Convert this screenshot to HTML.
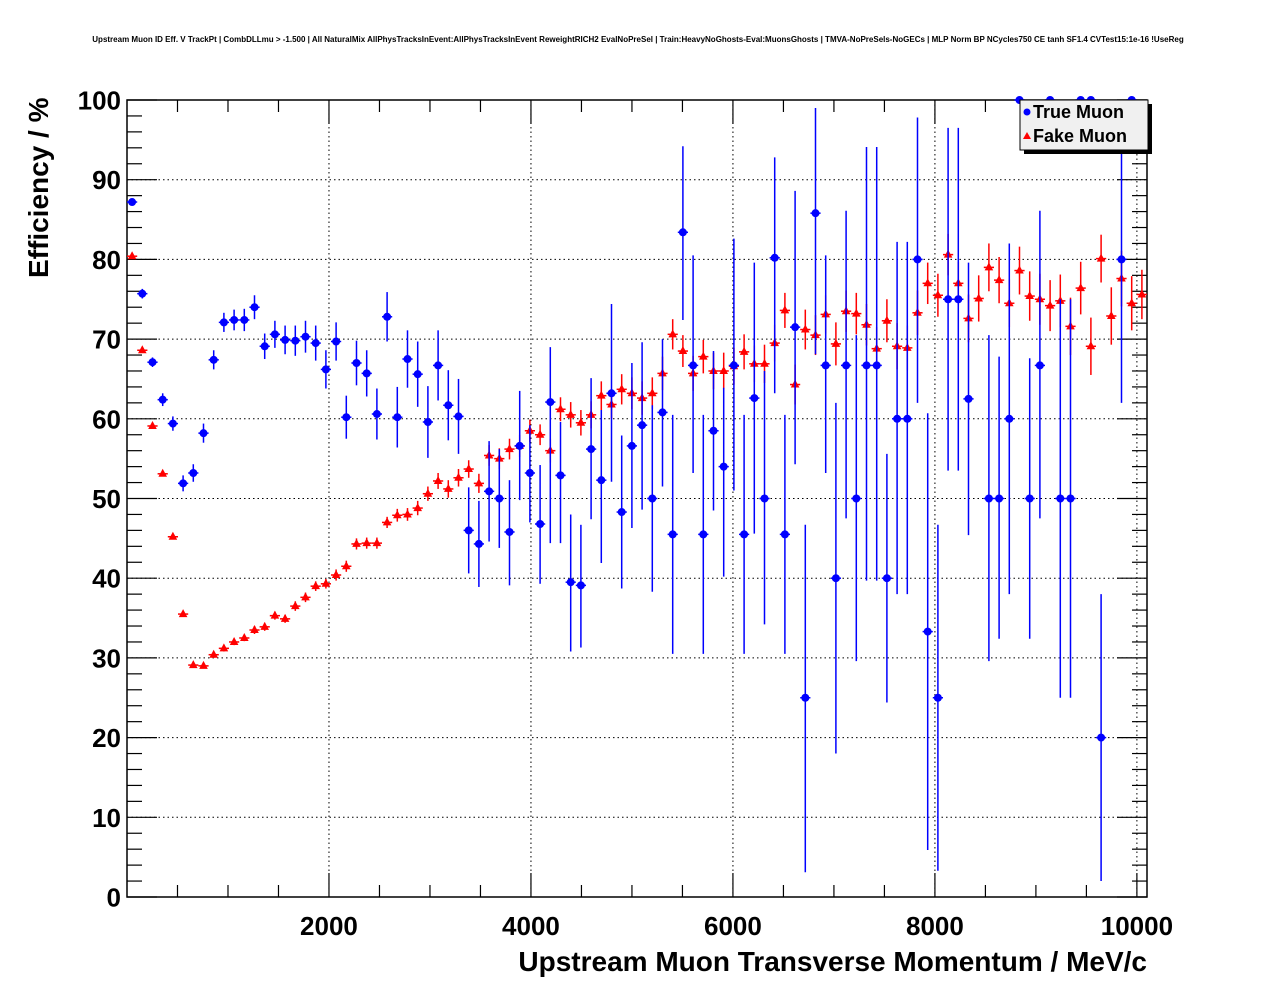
<!DOCTYPE html>
<html><head><meta charset="utf-8"><style>
html,body{margin:0;padding:0;background:#fff;}
svg{display:block;font-family:"Liberation Sans",sans-serif;}
</style></head><body>
<svg id="chart" width="1276" height="996" viewBox="0 0 1276 996" xmlns="http://www.w3.org/2000/svg">
<text x="638" y="42" font-size="8" font-weight="bold" text-anchor="middle">Upstream Muon ID Eff. V TrackPt | CombDLLmu &gt; -1.500 | All NaturalMix AllPhysTracksInEvent:AllPhysTracksInEvent ReweightRICH2 EvalNoPreSel | Train:HeavyNoGhosts-Eval:MuonsGhosts | TMVA-NoPreSels-NoGECs | MLP Norm BP NCycles750 CE tanh SF1.4 CVTest15:1e-16 !UseReg</text>
<g id="grid"></g>
<g id="axes"></g>
<g id="marks"></g>
<text transform="translate(48,278) rotate(-90)" font-size="28" font-weight="bold" text-anchor="start">Efficiency / %</text>
<text x="1147" y="971" font-size="28" font-weight="bold" text-anchor="end">Upstream Muon Transverse Momentum / MeV/c</text>
<g>
<rect x="1024" y="104" width="128" height="50" fill="#000"/>
<rect x="1020" y="100" width="128" height="50" fill="#f0f0f0" stroke="#000" stroke-width="1"/>
<circle cx="1027" cy="112" r="3.5" fill="#0000ff"/>
<text x="1033" y="118" font-size="18" font-weight="bold">True Muon</text>
<polygon points="1027,132 1023,139 1031,139" fill="#ff0000"/>
<text x="1033" y="142" font-size="18" font-weight="bold">Fake Muon</text>
</g>
</svg>
<script>
const xTicks = [2000, 4000, 6000, 8000, 10000];
const yTicks = [0, 10, 20, 30, 40, 50, 60, 70, 80, 90, 100];
const binWidth = 101;
const trueEff = [87.2,75.7,67.1,62.4,59.4,51.9,53.2,58.2,67.4,72.1, 72.4,72.4,74.0,69.1,70.6,69.9,69.8,70.3,69.5,66.2, 69.7,60.2,67.0,65.7,60.6,72.8,60.2,67.5,65.6,59.6, 66.7,61.7,60.3,46.0,44.3,50.9,50.0,45.8,56.6,53.2, 46.8,62.1,52.9,39.5,39.1,56.2,52.3,63.2,48.3,56.6, 59.2,50.0,60.8,45.5,83.4,66.7,45.5,58.5,54.0,66.7, 45.5,62.6,50.0,80.2,45.5,71.5,25.0,85.8,66.7,40.0, 66.7,50.0,66.7,66.7,40.0,60.0,60.0,80.0,33.3,25.0, 75.0,75.0,62.5,null,50.0,50.0,60.0,100,50.0,66.7, 100,50.0,50.0,100,100,20.0,null,80.0,100,null];
const trueErrUp = [0.4,0.6,0.6,0.8,0.9,1.0,1.1,1.2,1.2,1.2, 1.3,1.4,1.5,1.6,1.7,1.8,1.9,2.0,2.2,2.4, 2.4,2.7,2.8,2.9,3.2,3.1,3.8,3.6,4.1,4.5, 4.4,4.4,4.7,5.4,5.4,6.3,6.2,6.5,6.9,6.0, 7.4,6.9,6.7,8.5,7.6,8.9,8.8,11.2,9.6,10.4, 10.4,11.7,9.2,15,10.8,13.8,15,10,9.9,15.9, 15,17,16,12.6,15,17.1,21.7,13.2,13.8,22, 19.4,20.5,27.4,27.4,15.6,22.2,22.2,17.8,27.4,21.7, 21.5,21.5,17.1,0,20.5,17.8,22,0,17.6,19.4, 0,25,25,0,0,18,0,20,0,0];
const trueErrDn = [0.4,0.6,0.6,0.8,0.9,1.0,1.1,1.2,1.2,1.2, 1.3,1.4,1.5,1.6,1.7,1.8,1.9,2.0,2.2,2.4, 2.4,2.7,2.8,2.9,3.2,3.1,3.8,3.6,4.1,4.5, 4.4,4.4,4.7,5.4,5.4,6.3,6.2,6.7,6.8,6.2, 7.5,17.7,8.5,8.7,7.8,8.8,10.4,11.1,9.6,10.3, 10.6,11.7,9.3,15,11,13.5,15,10,13.8,15.7, 15,17,15.8,17,15,17.2,21.9,17.7,13.5,22, 19.2,20.4,27,27,15.6,22,22,18,27.4,21.7, 21.5,21.5,17.1,0,20.4,17.6,22,0,17.6,19.2, 0,25,25,0,0,18,0,18,0,0];
const fakeEff = [80.4,68.6,59.1,53.1,45.2,35.5,29.1,29.0,30.4,31.2, 32.0,32.5,33.5,33.9,35.3,34.9,36.5,37.6,39.0,39.3, 40.4,41.5,44.3,44.4,44.4,47.0,47.9,48.0,48.8,50.6, 52.2,51.2,52.6,53.7,51.9,55.4,55.0,56.2,56.6,58.5, 58.0,56.0,61.2,60.5,59.5,60.5,62.9,61.8,63.7,63.2, 62.6,63.2,65.7,70.6,68.5,65.7,67.8,66.0,66.0,66.6, 68.4,66.9,66.9,69.5,73.6,64.3,71.2,70.5,73.1,69.4, 73.5,73.2,71.8,68.8,72.3,69.1,68.9,73.3,77.0,75.5, 80.6,77.0,72.6,75.1,79.0,77.4,74.5,78.6,75.4,75.0, 74.2,74.8,71.6,76.4,69.1,80.1,72.9,77.6,74.5,75.6];
const fakeErr = [0.3,0.3,0.3,0.3,0.3,0.3,0.3,0.3,0.4,0.4, 0.4,0.4,0.5,0.5,0.5,0.5,0.6,0.6,0.6,0.6, 0.7,0.7,0.7,0.7,0.7,0.7,0.8,0.8,0.9,0.9, 1.0,1.1,1.1,1.1,1.2,1.3,1.3,1.3,1.4,1.4, 1.3,1.5,1.5,1.6,1.6,1.7,1.8,1.8,1.9,2.0, 2.1,2.0,2.1,1.9,2.0,2.2,2.1,2.3,2.3,2.3, 2.2,2.3,2.4,2.3,2.2,2.5,2.5,2.5,2.4,2.7, 2.6,2.6,2.6,2.7,2.7,2.9,2.8,2.8,2.6,2.7, 2.6,2.7,3.0,2.9,3.0,2.9,3.0,3.0,3.1,3.2, 3.2,3.3,3.6,3.3,3.6,3.0,3.6,3.5,3.4,3.1];

const NS = "http://www.w3.org/2000/svg";
const L = 127, R = 1147, T = 100, B = 897;
const X_MIN = 0, X_MAX = 10100, Y_MIN = 0, Y_MAX = 100;
function xScale(v){ return L + (v - X_MIN) / (X_MAX - X_MIN) * (R - L); }
function yScale(v){ return B - (v - Y_MIN) / (Y_MAX - Y_MIN) * (B - T); }
function mk(tag, attrs, parent){
  const e = document.createElementNS(NS, tag);
  for (const k in attrs) e.setAttribute(k, attrs[k]);
  parent.appendChild(e);
  return e;
}
const grid = document.getElementById('grid');
const axes = document.getElementById('axes');
const marks = document.getElementById('marks');

yTicks.forEach(v => {
  if (v === 0 || v === 100) return;
  const g = mk('line', {x1:L, x2:R, y1:yScale(v), y2:yScale(v), stroke:'#000', 'stroke-width':1, 'stroke-dasharray':'1.5,3'}, grid);
  
  
});
xTicks.forEach(v => {
  const g = mk('line', {x1:xScale(v), x2:xScale(v), y1:T, y2:B, stroke:'#000', 'stroke-width':1, 'stroke-dasharray':'1.5,3'}, grid);
  
  
});

const frame = mk('rect', {x:L, y:T, width:R-L, height:B-T, fill:'none', stroke:'#000', 'stroke-width':1.5}, axes);



for (let v = 0; v <= 100; v += 2) {
  const len = (v % 10 === 0) ? 30 : 15;
  const y = yScale(v);
  const t1 = mk('line', {x1:L, x2:L+len, y1:y, y2:y, stroke:'#000', 'stroke-width':1.2}, axes);
  
  
  const t2 = mk('line', {x1:R-len, x2:R, y1:y, y2:y, stroke:'#000', 'stroke-width':1.2}, axes);
  
  
}
yTicks.forEach(v => {
  const t = mk('text', {x:121, y:yScale(v)+9.5, 'font-size':26, 'font-weight':'bold', 'text-anchor':'end'}, axes);
  t.textContent = v;
  
  
});
for (let v = 500; v <= X_MAX; v += 500) {
  const len = (v % 2000 === 0) ? 24 : 12;
  const x = xScale(v);
  const t1 = mk('line', {x1:x, x2:x, y1:B, y2:B-len, stroke:'#000', 'stroke-width':1.2}, axes);
  
  
  const t2 = mk('line', {x1:x, x2:x, y1:T, y2:T+len, stroke:'#000', 'stroke-width':1.2}, axes);
  
  
}
xTicks.forEach(v => {
  const t = mk('text', {x:xScale(v), y:935, 'font-size':26, 'font-weight':'bold', 'text-anchor':'middle'}, axes);
  t.textContent = v;
  
  
});

function drawSeries(vals, up, dn, color, kind, name){
  const g = mk('g', {}, marks);
  
  
  vals.forEach((v, i) => {
    if (v === null || v === undefined) return;
    const xc = xScale((i + 0.5) * binWidth);
    const x0 = xScale(i * binWidth), x1 = xScale((i + 1) * binWidth);
    const y = yScale(v);
    const yt = yScale(Math.min(100, v + up[i])), yb = yScale(Math.max(0, v - dn[i]));
    const h = mk('line', {x1:x0, x2:x1, y1:y, y2:y, stroke:color, 'stroke-width':1.5}, g);
    
    
    if (yb - yt > 0.5) {
      const ve = mk('line', {x1:xc, x2:xc, y1:yt, y2:yb, stroke:color, 'stroke-width':1.5}, g);
      
      
    }
    let m;
    if (kind === 'circle') {
      m = mk('circle', {cx:xc, cy:y, r:4, fill:color}, g);
    } else {
      m = mk('polygon', {points:`${xc},${y-5} ${xc-4.3},${y+3} ${xc+4.3},${y+3}`, fill:color}, g);
    }
    
    
  });
}
drawSeries(fakeEff, fakeErr, fakeErr, '#ff0000', 'triangle', 'fake-muon');
drawSeries(trueEff, trueErrUp, trueErrDn, '#0000ff', 'circle', 'true-muon');
</script>
</body></html>
